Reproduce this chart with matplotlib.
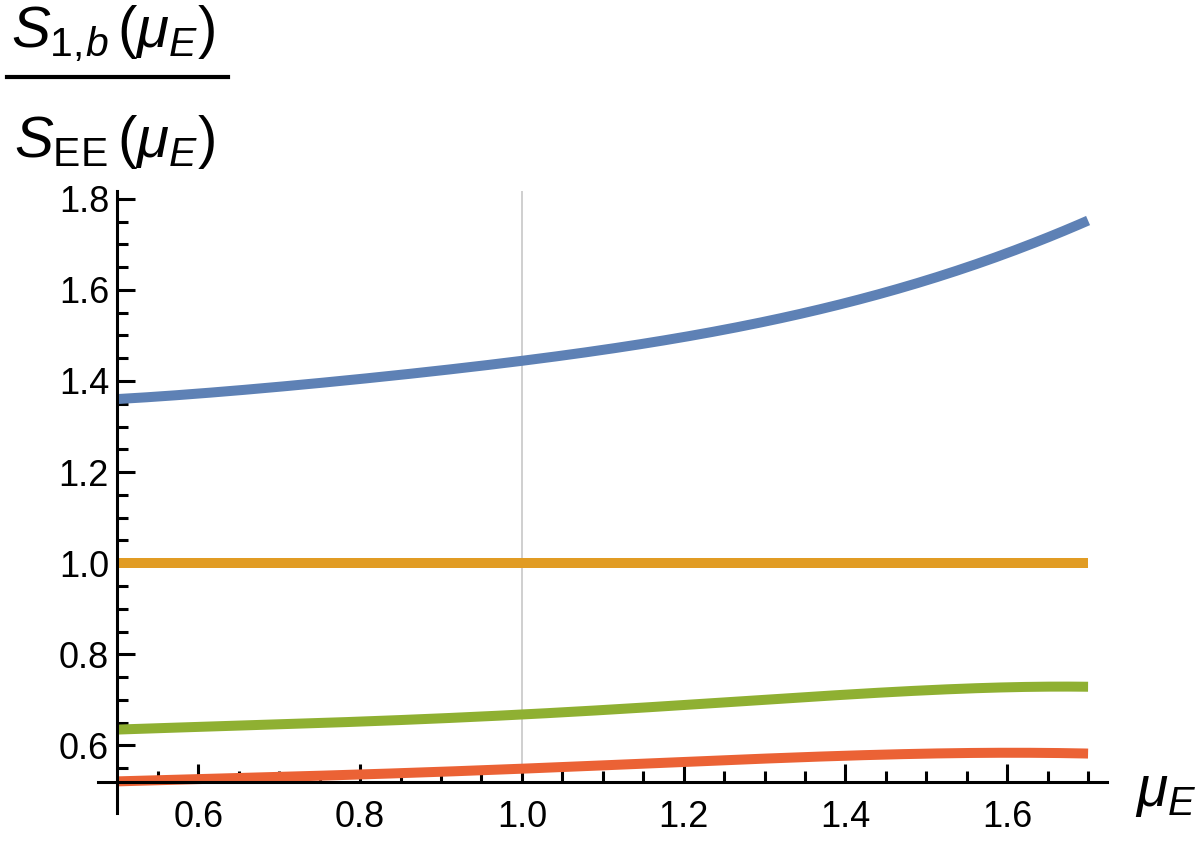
import matplotlib
matplotlib.use("Agg")
import matplotlib.pyplot as plt
from matplotlib.lines import Line2D
from matplotlib.ticker import FixedLocator
import numpy as np

plt.rcParams['font.family'] = ['Liberation Sans', 'DejaVu Sans']
plt.rcParams['mathtext.fontset'] = 'custom'
plt.rcParams['mathtext.rm'] = 'Liberation Sans'
plt.rcParams['mathtext.it'] = 'Liberation Sans:italic'
plt.rcParams['mathtext.bf'] = 'Liberation Sans:bold'
plt.rcParams['xtick.labelsize'] = 26
plt.rcParams['ytick.labelsize'] = 26

# values
mu = [0.5, 0.6, 0.7, 0.8, 0.9, 1.0, 1.1, 1.2, 1.3, 1.4, 1.5, 1.6, 1.7]
blue = [1.360, 1.373, 1.387, 1.404, 1.423, 1.444, 1.469, 1.497, 1.529, 1.571, 1.621, 1.681, 1.752]
orange = [1.0] * len(mu)
green = [0.635, 0.640, 0.646, 0.653, 0.660, 0.667, 0.677, 0.689, 0.700, 0.712, 0.721, 0.727, 0.729]
red = [0.521, 0.526, 0.531, 0.536, 0.542, 0.549, 0.556, 0.564, 0.571, 0.577, 0.582, 0.584, 0.582]

xticks = [0.6, 0.8, 1.0, 1.2, 1.4, 1.6]
yticks = [0.6, 0.8, 1.0, 1.2, 1.4, 1.6, 1.8]
xminor = [0.55, 0.65, 0.7, 0.75, 0.85, 0.9, 0.95, 1.05, 1.1, 1.15, 1.25, 1.3, 1.35,
          1.45, 1.5, 1.55, 1.65, 1.7]
yminor = [0.55, 0.65, 0.7, 0.75, 0.85, 0.9, 0.95, 1.05, 1.1, 1.15, 1.25, 1.3, 1.35,
          1.45, 1.5, 1.55, 1.65, 1.7, 1.75]

colors = ['#5E81B5', '#E19C24', '#8FB032', '#EB6235']

fig = plt.figure(figsize=(12.04, 8.46), dpi=100)
W, H = 1204.0, 846.0
ax = fig.add_axes([98 / W, 1 - 813 / H, 1009 / W, 622 / H])
ax.set_xlim(0.476, 1.7234)
ax.set_ylim(0.4516, 1.817)

x_axis_y = 0.519
ax.vlines(1.0, x_axis_y, 1.817, color='#cccccc', lw=1.3, zorder=1)

xs = np.linspace(0.5, 1.7, 200)
for ys, c in zip([blue, orange, green, red], colors):
    # smooth through the read points
    coef = np.polyfit(mu, ys, 5)
    ax.plot(xs, np.polyval(coef, xs), color=c, lw=7.2, solid_capstyle='butt', zorder=2)

for s in ['top', 'right']:
    ax.spines[s].set_visible(False)
ax.spines['left'].set_position(('data', 0.5))
ax.spines['bottom'].set_position(('data', x_axis_y))
for s in ['left', 'bottom']:
    ax.spines[s].set_linewidth(2.2)
    ax.spines[s].set_zorder(3)

ax.xaxis.set_major_locator(FixedLocator(xticks))
ax.yaxis.set_major_locator(FixedLocator(yticks))
ax.xaxis.set_minor_locator(FixedLocator(xminor))
ax.yaxis.set_minor_locator(FixedLocator(yminor))
ax.set_xticklabels(['%.1f' % v for v in xticks])
ax.set_yticklabels(['%.1f' % v for v in yticks])
ax.tick_params(which='major', direction='in', length=13, width=2.2)
ax.tick_params(which='minor', direction='in', length=8, width=2.2)
ax.tick_params(axis='y', which='major', pad=6)
ax.tick_params(axis='x', which='major', pad=13)

# fraction style y label
fig.text(11 / W, 1 - 47 / H, r'$S_{1,\!b}\,(\mu_E)$', fontsize=42, va='baseline', ha='left')
fig.text(14 / W, 1 - 157 / H, r'$S_{\mathrm{EE}}\,(\mu_E)$', fontsize=42, va='baseline', ha='left')
fig.add_artist(Line2D([7 / W, 228 / W], [1 - 77 / H, 1 - 77 / H], color='black', lw=3))

fig.text(1135 / W, 1 - 806 / H, r'$\mu_E$', fontsize=41, va='baseline', ha='left')

fig.savefig('out.png', dpi=100)
